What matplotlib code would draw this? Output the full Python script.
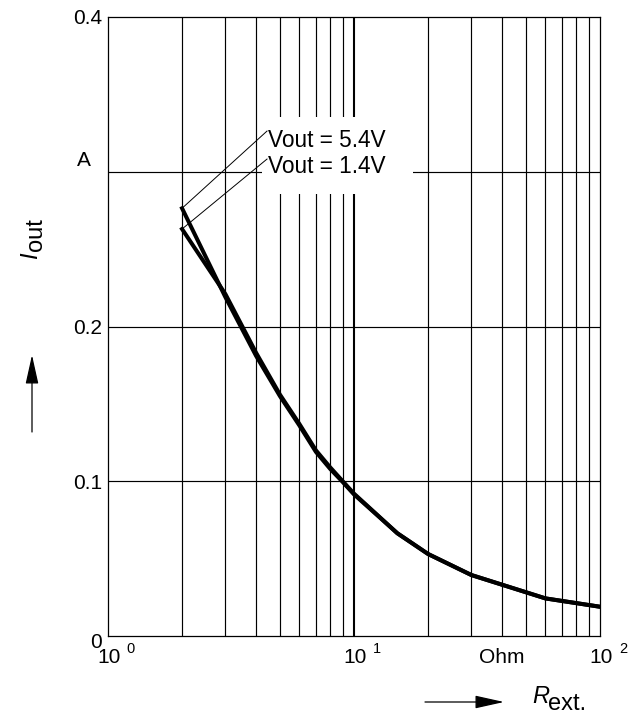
import matplotlib

matplotlib.use("Agg")
import matplotlib.pyplot as plt
import matplotlib.transforms as mtransforms
from matplotlib.patches import FancyArrowPatch, Rectangle

plt.rcParams["font.family"] = ["Liberation Sans", "DejaVu Sans"]

# external resistance (Ohm) and output current (A)
r_ext = [2, 3, 4, 5, 6, 7, 8, 9, 10, 15, 20, 30, 60, 100]
i_out_54 = [0.2764, 0.219, 0.181, 0.155, 0.136, 0.119, 0.108, 0.0995,
            0.0915, 0.0664, 0.053, 0.0394, 0.0243, 0.0189]
i_out_14 = [0.263, 0.221, 0.183, 0.156, 0.137, 0.120, 0.109, 0.100,
            0.092, 0.0664, 0.053, 0.0394, 0.0243, 0.0189]
curve_labels = ["Vout = 5.4V", "Vout = 1.4V"]
label_anchor = [(4.43, 0.3263), (4.43, 0.3082)]
label_text_pos = [(4.47, 0.316), (4.47, 0.2992)]

y_ticks = [0, 0.1, 0.2, 0.4]
y_tick_labels = ["0", "0.1", "0.2", "0.4"]
decades = [1, 10, 100]
decade_exp = ["0", "1", "2"]
minor_x = [2, 3, 4, 5, 6, 7, 8, 9, 20, 30, 40, 50, 60, 70, 80, 90]

fig = plt.figure(figsize=(6.41, 7.15), dpi=100)
fig.patch.set_facecolor("#ffffff")
ax = fig.add_axes([108 / 641, 79 / 715, 492 / 641, 619 / 715])
ax.set_xscale("log")
ax.set_xlim(1, 100)
ax.set_ylim(0, 0.4)

# grid
for x in minor_x:
    ax.axvline(x, color="black", lw=0.85, zorder=1)
ax.axvline(10, color="black", lw=1.5, zorder=1)
for y in [0.1, 0.2, 0.3]:
    ax.axhline(y, color="black", lw=0.85, zorder=1)
for spine in ax.spines.values():
    spine.set_linewidth(0.9)

ax.set_xticks(decades, labels=[])
ax.set_xticks([], minor=True)
ax.set_yticks(y_ticks, labels=y_tick_labels, fontsize=15)
ax.tick_params(axis="both", length=0)
ax.tick_params(axis="y", pad=4.5)
# the "0" sits a little below the bottom line, as in the original
zero_label = ax.get_yticklabels()[0]
zero_label.set_transform(zero_label.get_transform()
                         + mtransforms.ScaledTranslation(0, -4 / 100, fig.dpi_scale_trans))

# white box behind the curve labels
ax.add_patch(Rectangle((0.313, 0.714), 0.307, 0.1245, transform=ax.transAxes,
                       facecolor="white", edgecolor="none", zorder=1.8))

ax.plot(r_ext, i_out_54, color="black", lw=2.9, zorder=3, solid_joinstyle="miter")
ax.plot(r_ext, i_out_14, color="black", lw=2.9, zorder=3, solid_joinstyle="miter")

starts = [(r_ext[0], i_out_54[0]), (r_ext[0], i_out_14[0])]
for label, start, anchor, pos in zip(curve_labels, starts, label_anchor, label_text_pos):
    ax.plot([start[0], anchor[0]], [start[1], anchor[1]], color="black", lw=0.7, zorder=3)
    ax.text(pos[0], pos[1], label, fontsize=16.3, ha="left", va="baseline", zorder=4)

# x tick labels: 10 with a raised exponent
for d, e in zip(decades, decade_exp):
    ax.annotate("10", xy=(d, 0), xycoords=("data", "axes fraction"),
                xytext=(0.5, -8.5), textcoords="offset points",
                ha="center", va="top", fontsize=15)
    ax.annotate(e, xy=(d, 0), xycoords=("data", "axes fraction"),
                xytext=(13.5, -4.5), textcoords="offset points",
                ha="left", va="top", fontsize=10.5)
ax.annotate("Ohm", xy=(40, 0), xycoords=("data", "axes fraction"),
            xytext=(0, -8.5), textcoords="offset points",
            ha="center", va="top", fontsize=15)
ax.annotate("A", xy=(0, 0.3), xycoords=("axes fraction", "data"),
            xytext=(-17.5, 8), textcoords="offset points",
            ha="center", va="center", fontsize=15)

# axis names with arrows
fig.text(532 / 641, 1 - 703 / 715, "R", fontsize=17, style="italic",
         ha="left", va="baseline")
fig.text(548 / 641, 1 - 710 / 715, "ext.", fontsize=17, ha="left", va="baseline")
fig.add_artist(FancyArrowPatch((425 / 641, 1 - 702 / 715), (504 / 641, 1 - 702 / 715),
                               transform=fig.transFigure, arrowstyle="-|>,head_length=1.8,head_width=0.4",
                               mutation_scale=10, color="black", lw=0.9, shrinkA=0, shrinkB=0))

fig.text(31 / 641, 1 - 256 / 715, "I", fontsize=17, style="italic", rotation=90,
         ha="center", va="center")
fig.text(36 / 641, 1 - 235 / 715, "out", fontsize=17, rotation=90,
         ha="center", va="center")
fig.add_artist(FancyArrowPatch((32 / 641, 1 - 432 / 715), (32 / 641, 1 - 355 / 715),
                               transform=fig.transFigure, arrowstyle="-|>,head_length=1.8,head_width=0.4",
                               mutation_scale=10, color="black", lw=0.9, shrinkA=0, shrinkB=0))

fig.savefig("out.png", dpi=100, facecolor=fig.get_facecolor())
